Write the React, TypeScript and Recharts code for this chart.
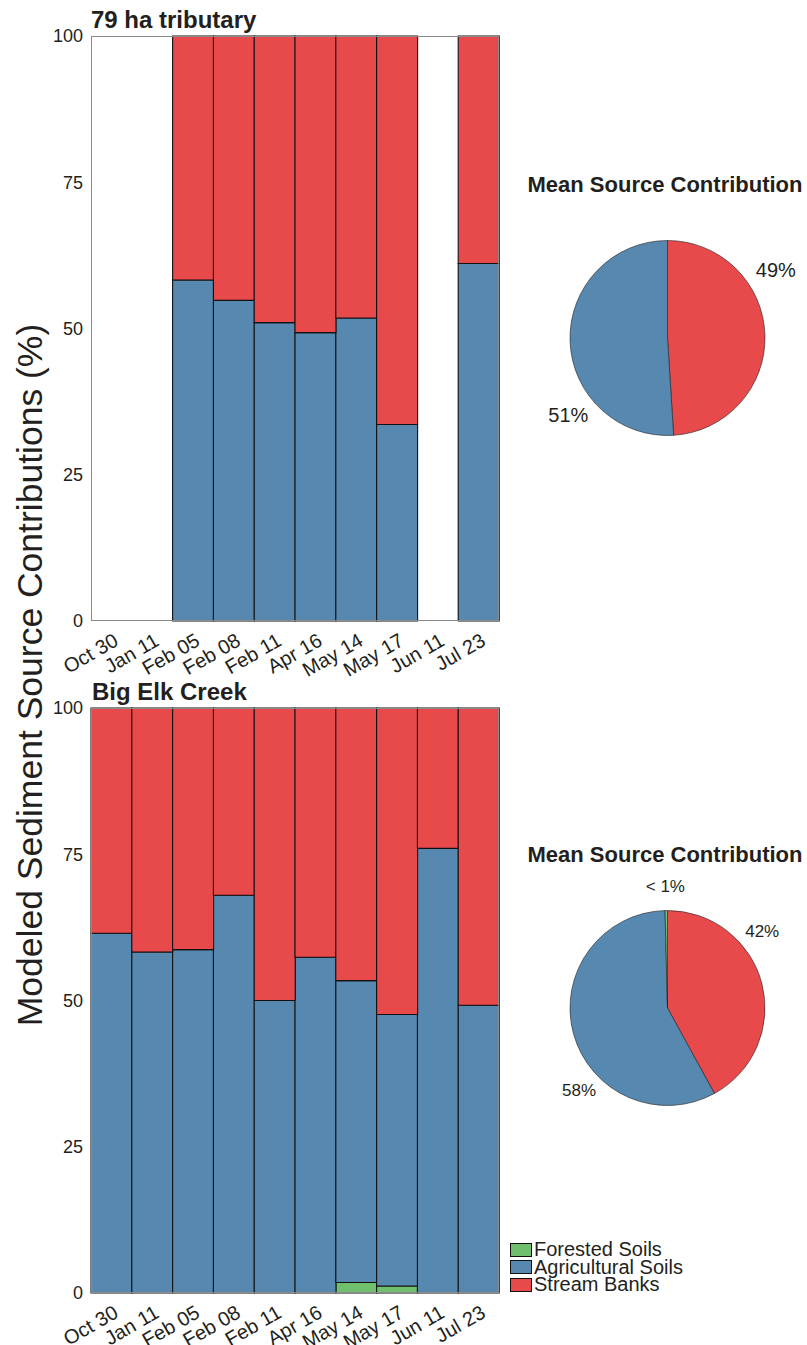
import { BarChart, Bar, XAxis, YAxis, Legend, PieChart, Pie, Cell } from "recharts";

const dates = ["Oct 30", "Jan 11", "Feb 05", "Feb 08", "Feb 11", "Apr 16", "May 14", "May 17", "Jun 11", "Jul 23"];
const yTicks = [0, 25, 50, 75, 100];

// 79 ha tributary (no samples on Oct 30, Jan 11, Jun 11)
const tribForested = [null, null, 0, 0, 0, 0, 0, 0, null, 0];
const tribAgricultural = [null, null, 58.3, 54.8, 51.0, 49.3, 51.8, 33.6, null, 61.1];
const tribStream = [null, null, 41.7, 45.2, 49.0, 50.7, 48.2, 66.4, null, 38.9];

// Big Elk Creek
const elkForested = [0, 0, 0, 0, 0, 0, 1.8, 1.2, 0, 0];
const elkAgricultural = [61.5, 58.3, 58.7, 68.0, 50.0, 57.4, 51.6, 46.4, 76.0, 49.2];
const elkStream = [38.5, 41.7, 41.3, 32.0, 50.0, 42.6, 46.6, 52.4, 24.0, 50.8];

// mean source contributions, clockwise from 12 o'clock
const tribMeanNames = ["Stream Banks", "Agricultural Soils"];
const tribMeanValues = [49, 51];
const tribMeanLabels = ["49%", "51%"];
const elkMeanNames = ["Stream Banks", "Agricultural Soils", "Forested Soils"];
const elkMeanValues = [42, 57.6, 0.4];
const elkMeanLabels = ["42%", "58%", "< 1%"];

const sourceOrder = ["Forested Soils", "Agricultural Soils", "Stream Banks"];

const FONT = "'Liberation Sans', Arial, Helvetica, sans-serif";
const TEXT = "#231f20";
const COLORS: Record<string, string> = {
  "Forested Soils": "#6fbf6d",
  "Agricultural Soils": "#5788b0",
  "Stream Banks": "#e8494b",
};

// label angle (deg, counter-clockwise from 3 o'clock) and distance as a multiple of the radius
const tribLabelPos = [
  { a: 32, f: 1.31 },
  { a: 218, f: 1.29 },
];
const elkLabelPos = [
  { a: 39, f: 1.25 },
  { a: 223, f: 1.24 },
  { a: 91, f: 1.25 },
];

function buildRows(forested: (number | null)[], agri: (number | null)[], stream: (number | null)[]) {
  return dates.map((d, i) => ({
    date: d,
    forested: forested[i],
    agricultural: agri[i],
    stream: stream[i],
  }));
}

function DateTick(props: any) {
  const { x, y, payload } = props;
  return (
    <g transform={`translate(${x + 1},${y + 11}) rotate(-30)`}>
      <text x={0} y={0} dy="0.72em" textAnchor="end" fontSize={20} fill={TEXT} fontFamily={FONT}>
        {payload.value}
      </text>
    </g>
  );
}

function LegendBoxes(props: any) {
  const items = [...(props.payload || [])].sort(
    (a: any, b: any) => sourceOrder.indexOf(a.value) - sourceOrder.indexOf(b.value)
  );
  return (
    <div style={{ fontFamily: FONT, fontSize: 20, color: TEXT, lineHeight: "17.5px" }}>
      {items.map((p: any) => (
        <div key={p.value} style={{ display: "flex", alignItems: "center", height: 17.5 }}>
          <span
            style={{
              display: "inline-block",
              width: 20,
              height: 12,
              background: p.color,
              border: "1.7px solid #111",
              marginRight: 2,
              flex: "none",
            }}
          />
          <span style={{ whiteSpace: "nowrap" }}>{p.value}</span>
        </div>
      ))}
    </div>
  );
}

function StackPanel({ rows, withLegend }: { rows: any[]; withLegend?: boolean }) {
  return (
    <BarChart
      width={withLegend ? 700 : 510}
      height={690}
      data={rows}
      margin={{ top: 36, right: withLegend ? 201 : 11, bottom: 0, left: 0 }}
      barCategoryGap={0}
      barGap={0}
    >
      <XAxis
        dataKey="date"
        interval={0}
        height={69}
        tickLine={false}
        tickSize={0}
        tickMargin={0}
        axisLine={false}
        tick={<DateTick />}
      />
      <YAxis
        domain={[0, 100]}
        ticks={yTicks}
        width={91}
        tickLine={false}
        tickSize={0}
        tickMargin={8}
        axisLine={false}
        tick={{ fontSize: 18, fill: TEXT, fontFamily: FONT }}
      />
      <Bar dataKey="forested" name="Forested Soils" stackId="s" fill={COLORS["Forested Soils"]} stroke="#111" strokeWidth={1.1} isAnimationActive={false} />
      <Bar dataKey="agricultural" name="Agricultural Soils" stackId="s" fill={COLORS["Agricultural Soils"]} stroke="#111" strokeWidth={1.1} isAnimationActive={false} />
      <Bar dataKey="stream" name="Stream Banks" stackId="s" fill={COLORS["Stream Banks"]} stroke="#111" strokeWidth={1.1} isAnimationActive={false} />
      {withLegend && (
        <Legend
          layout="vertical"
          align="center"
          verticalAlign="middle"
          content={<LegendBoxes />}
          wrapperStyle={{ left: 510, top: 569, width: 190, height: 56 }}
        />
      )}
    </BarChart>
  );
}

function MeanPie({
  names,
  values,
  labels,
  pos,
  fontSize,
}: {
  names: string[];
  values: number[];
  labels: string[];
  pos: { a: number; f: number }[];
  fontSize: number;
}) {
  const data = names.map((n, i) => ({ name: n, value: values[i] }));
  const renderLabel = (p: any) => {
    const { cx, cy, outerRadius, index } = p;
    const rad = (pos[index].a * Math.PI) / 180;
    const r = outerRadius * pos[index].f;
    return (
      <text
        x={cx + r * Math.cos(rad)}
        y={cy - r * Math.sin(rad)}
        textAnchor="middle"
        dominantBaseline="central"
        fontSize={fontSize}
        fill={TEXT}
        fontFamily={FONT}
      >
        {labels[index]}
      </text>
    );
  };
  return (
    <PieChart width={287} height={300} margin={{ top: 0, right: 0, bottom: 0, left: 0 }}>
      <Pie
        data={data}
        dataKey="value"
        cx={147.5}
        cy={178}
        outerRadius={97.5}
        startAngle={90}
        endAngle={-270}
        stroke="#222"
        strokeWidth={0.6}
        label={renderLabel}
        labelLine={false}
        isAnimationActive={false}
      >
        {data.map((d) => (
          <Cell key={d.name} fill={COLORS[d.name]} />
        ))}
      </Pie>
    </PieChart>
  );
}

const box = (top: number) => ({
  position: "absolute" as const,
  left: 91,
  top,
  width: 408,
  height: 585,
  border: "1px solid #8a8a8a",
  boxSizing: "border-box" as const,
  pointerEvents: "none" as const,
});

export default function App() {
  const tribRows = buildRows(tribForested, tribAgricultural, tribStream);
  const elkRows = buildRows(elkForested, elkAgricultural, elkStream);
  return (
    <div style={{ position: "absolute", left: 0, top: 0, width: 807, height: 1345, background: "#fff", fontFamily: FONT, overflow: "hidden" }}>
      <div style={{ position: "absolute", left: 0, top: 0 }}>
        <StackPanel rows={tribRows} />
      </div>
      <div style={box(36)} />
      <div style={{ position: "absolute", left: 0, top: 672 }}>
        <StackPanel rows={elkRows} withLegend />
      </div>
      <div style={box(708)} />
      <div style={{ position: "absolute", left: 520, top: 160 }}>
        <MeanPie names={tribMeanNames} values={tribMeanValues} labels={tribMeanLabels} pos={tribLabelPos} fontSize={20} />
      </div>
      <div style={{ position: "absolute", left: 520, top: 830 }}>
        <MeanPie names={elkMeanNames} values={elkMeanValues} labels={elkMeanLabels} pos={elkLabelPos} fontSize={17} />
      </div>
      <svg width={807} height={1345} style={{ position: "absolute", left: 0, top: 0, pointerEvents: "none" }}>
        <text x={91} y={28} fontSize={24} fontWeight="bold" fill={TEXT} fontFamily={FONT}>
          79 ha tributary
        </text>
        <text x={92} y={700} fontSize={24} fontWeight="bold" fill={TEXT} fontFamily={FONT}>
          Big Elk Creek
        </text>
        <text x={665} y={192} fontSize={22} fontWeight="bold" fill={TEXT} fontFamily={FONT} textAnchor="middle">
          Mean Source Contribution
        </text>
        <text x={665} y={862} fontSize={22} fontWeight="bold" fill={TEXT} fontFamily={FONT} textAnchor="middle">
          Mean Source Contribution
        </text>
        <text
          transform="translate(42,675) rotate(-90)"
          fontSize={35.5}
          fill={TEXT}
          fontFamily={FONT}
          textAnchor="middle"
        >
          Modeled Sediment Source Contributions (%)
        </text>
      </svg>
    </div>
  );
}
